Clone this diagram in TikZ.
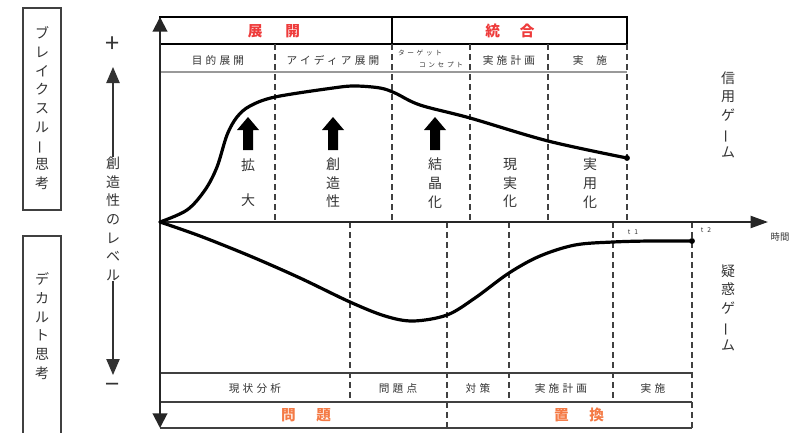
\documentclass[tikz,border=0pt]{standalone}
\usepackage{fontspec}
\setmainfont{Noto Sans CJK JP}
\newfontfamily\sublab[LetterSpace=30]{Noto Sans CJK JP}
\newfontfamily\tinylab[LetterSpace=40]{Noto Sans CJK JP}
\usetikzlibrary{arrows.meta,positioning}
\definecolor{ink}{HTML}{333333}
\definecolor{hdred}{HTML}{EE3B3B}
\definecolor{hdorg}{HTML}{F47A45}
\newcommand\vbar{\rotatebox[origin=c]{90}{ー}}

\begin{document}
\begin{tikzpicture}[x=0.75pt, y=-0.75pt,
       axs/.style = {line width=1.5pt, draw=black!85},
      tarr/.style = {line width=0.9pt, draw=black!80,
                     -{Triangle[width=10pt,length=12pt]}},
     frame/.style = {line width=2.2pt},
       row/.style = {line width=1.1pt, draw=black!75},
       box/.style = {line width=0.9pt, draw=black!75},
       dsh/.style = {line width=1.2pt, draw=black!75,
                     dash pattern=on 4.5pt off 3pt},
     curve/.style = {line width=2.4pt, line cap=round},
      vtxt/.style = {align=center, text=ink, inner sep=0pt,
                     font=\fontsize{10.5}{14}\selectfont},
       sub/.style = {text=ink, inner sep=0pt,
                     font=\sublab\fontsize{8}{9}\selectfont},
      tiny/.style = {text=ink, inner sep=0pt,
                     font=\tinylab\fontsize{5}{6}\selectfont},
       hdr/.style = {inner sep=0pt, font=\fontsize{11}{12}\selectfont\bfseries},
      sign/.style = {text=ink, inner sep=0pt, font=\fontsize{19}{20}\selectfont},
    ]
    \useasboundingbox (0,0) rectangle (798,432);
    %% left labels
    \draw[box] (23,8) rectangle (61,210);
    \node[vtxt] (brk) at (42,108) {ブ\\レ\\イ\\ク\\ス\\ル\\\vbar\\思\\考};
    \draw[box] (23,445) |- (61,236) -- (61,445);
    \node[vtxt] (dct) at (42,326) {デ\\カ\\ル\\ト\\思\\考};
    %
    \node[sign] (plus)  at (113,45)  {+};
    \node[sign] (minus) at (113,388) {−};
    \node[vtxt] (lvl)   at (113,219) {創\\造\\性\\の\\レ\\ベ\\ル};
    \coordinate (lup) at (113,67);
    \coordinate (ldn) at (113,375);
    \draw[tarr] (lvl.north) -- (lup);
    \draw[tarr] (lvl.south) -- (ldn);
    %% header
    \draw[frame] (160,17) rectangle (627,44);
    \draw[frame] (392,17) -- (392,44);
    \node[hdr, text=hdred] (tenkai) at (274,31) {展\hspace{1.55em}開};
    \node[hdr, text=hdred] (tougou) at (510,31) {統\hspace{1.35em}合};
    \draw[line width=1.5pt, draw=black!40] (160,72) -- (627,72);
    \foreach \x in {275,392,470,548,627}
        \draw[dsh] (\x,44) -- (\x,222);
    \node[sub] (s1) at (218,60) {目的展開};
    \node[sub] (s2) at (333,60) {アイディア展開};
    \node[tiny] (s3a) at (420,53) {ターゲット};
    \node[tiny] (s3b) at (441,65) {コンセプト};
    \node[sub] (s4) at (509,60) {実施計画};
    \node[sub] (s5) at (590,60) {実\hspace{1.2em}施};
    %% bottom rows
    \draw[row] (160,373) -- (692,373)
               (160,402) -- (692,402)
               (160,428) -- (692,428);
    \foreach \x/\y in {350/402,447/428,509/402,613/402,692/428}
        \draw[dsh] (\x,222) -- (\x,\y);
    \node[sub] (b1) at (255,388) {現状分析};
    \node[sub] (b2) at (398,388) {問題点};
    \node[sub] (b3) at (478,388) {対策};
    \node[sub] (b4) at (561,388) {実施計画};
    \node[sub] (b5) at (653,388) {実施};
    \node[hdr, text=hdorg] (mondai) at (306,415) {問\hspace{1.4em}題};
    \node[hdr, text=hdorg] (chikan) at (579,415) {置\hspace{1.4em}換};
    %% axes
    \coordinate (O)    at (160,222);
    \coordinate (top)  at (160,17);
    \coordinate (bot)  at (160,428);
    \coordinate (tend) at (768,222);
    \draw[axs, -{Triangle[width=11pt,length=11pt]}] (O) -- (top);
    \draw[axs, -{Triangle[width=11pt,length=11pt]}] (O) -- (bot);
    \draw[axs, -{Triangle[width=9pt,length=13pt]}]  (O) -- (tend);
    \node[tiny] (t1) at (633,232) {t 1};
    \node[tiny] (t2) at (706,230) {t 2};
    \node[sub, font=\fontsize{7}{8}\selectfont] (jikan) at (780,237) {時間};
    %% curves
    \draw[curve] plot[smooth, tension=0.55] coordinates {
        (160,222) (187,210) (205,190) (217,167) (227,135) (237,117)
        (250,106) (275,97) (333,88) (355,86) (380,88) (395,93)
        (420,105) (470,118) (548,141) (627,158)};
    \draw[curve] plot[smooth, tension=0.55] coordinates {
        (160,222) (200,236) (250,256) (300,278) (350,302) (385,316)
        (413,321) (447,315) (475,298) (509,273) (540,256) (575,245)
        (613,242) (650,241) (692,241)};
    \fill (627,158) circle[radius=2.2pt];
    \fill (692,241) circle[radius=2.2pt];
    %% block arrows and stage labels
    \foreach \x in {248,333,435}
        \fill (\x-5,150) -- (\x-5,130) -- (\x-11,130) -- (\x,117)
              -- (\x+11,130) -- (\x+5,130) -- (\x+5,150) -- cycle;
    \node[vtxt] (kak) at (248,183) {拡\\[12pt]大};
    \node[vtxt] (sou) at (333,183) {創\\造\\性};
    \node[vtxt] (kes) at (435,183) {結\\晶\\化};
    \node[vtxt] (gen) at (510,183) {現\\実\\化};
    \node[vtxt] (jit) at (590,183) {実\\用\\化};
    %% right labels
    \node[vtxt] (shin) at (728,115) {信\\用\\ゲ\\\vbar\\ム};
    \node[vtxt] (giw)  at (728,308) {疑\\惑\\ゲ\\\vbar\\ム};
\end{tikzpicture}
\end{document}
